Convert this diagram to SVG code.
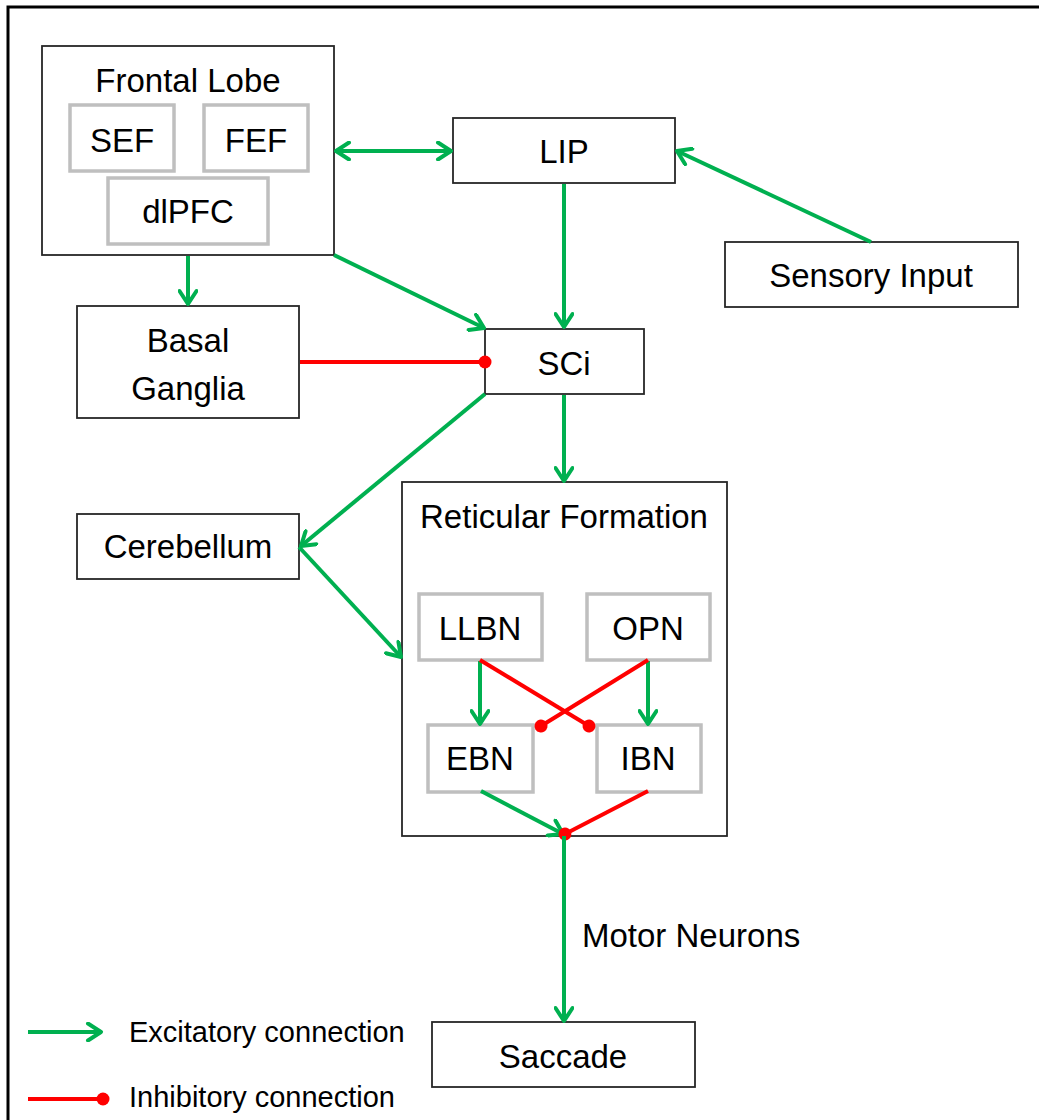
<svg xmlns="http://www.w3.org/2000/svg" width="1039" height="1120" viewBox="0 0 1039 1120">
<style>
.box{fill:#fff;stroke:#262626;stroke-width:1.8}
.sub{fill:#fff;stroke:#bfbfbf;stroke-width:3.5}
text{font-family:"Liberation Sans",Arial,sans-serif;font-size:33px;fill:#000;text-anchor:middle}
.leg{font-size:29px;text-anchor:start}
.ex{stroke:#00b050;stroke-width:4;fill:none;marker-end:url(#arr)}
.in{stroke:#ff0000;stroke-width:4;fill:none;marker-end:url(#dot)}
</style>
<defs>
<marker id="arr" markerUnits="userSpaceOnUse" viewBox="0 0 20 20" markerWidth="20" markerHeight="20" refX="17" refY="10" orient="auto-start-reverse">
<path d="M4,1.5 L17,10 L4,18.5" fill="none" stroke="#00b050" stroke-width="4" stroke-linecap="round" stroke-linejoin="round"/>
</marker>
<marker id="dot" markerUnits="userSpaceOnUse" viewBox="0 0 16 16" markerWidth="16" markerHeight="16" refX="8" refY="8" orient="auto">
<circle cx="8" cy="8" r="6.5" fill="#ff0000"/>
</marker>
</defs>
<rect width="1039" height="1120" fill="#fff"/>
<path d="M8,1120 V7 H1039" fill="none" stroke="#000" stroke-width="3"/>

<g id="frontal-lobe">
<rect class="box" x="42" y="46" width="292" height="209"/>
<text x="188" y="92">Frontal Lobe</text>
</g>
<g id="sef"><rect class="sub" x="70" y="105" width="104" height="66"/><text x="122" y="152">SEF</text></g>
<g id="fef"><rect class="sub" x="204" y="105" width="104" height="66"/><text x="256" y="152">FEF</text></g>
<g id="dlpfc"><rect class="sub" x="108" y="178" width="160" height="66"/><text x="188" y="223">dlPFC</text></g>
<g id="lip"><rect class="box" x="453" y="118" width="222" height="65"/><text x="564" y="163">LIP</text></g>
<g id="sensory-input"><rect class="box" x="725" y="242" width="293" height="65"/><text x="871" y="287">Sensory Input</text></g>
<g id="basal-ganglia"><rect class="box" x="77" y="306" width="222" height="112"/><text x="188" y="352">Basal</text><text x="188" y="400">Ganglia</text></g>
<g id="sci"><rect class="box" x="485" y="329" width="159" height="65"/><text x="564" y="375">SCi</text></g>
<g id="cerebellum"><rect class="box" x="77" y="514" width="222" height="65"/><text x="188" y="558">Cerebellum</text></g>
<g id="reticular-formation"><rect class="box" x="402" y="482" width="325" height="354"/><text x="564" y="528">Reticular Formation</text></g>
<g id="llbn"><rect class="sub" x="419" y="594" width="123" height="66"/><text x="480" y="640">LLBN</text></g>
<g id="opn"><rect class="sub" x="587" y="594" width="123" height="66"/><text x="648" y="640">OPN</text></g>
<g id="ebn"><rect class="sub" x="428" y="725" width="105" height="67"/><text x="480" y="770">EBN</text></g>
<g id="ibn"><rect class="sub" x="597" y="725" width="104" height="67"/><text x="648" y="770">IBN</text></g>
<g id="saccade"><rect class="box" x="432" y="1022" width="263" height="65"/><text x="563" y="1068">Saccade</text></g>

<g id="connectors">
<line class="ex" x1="336" y1="151" x2="451" y2="151" marker-start="url(#arr)"/>
<line class="ex" x1="871" y1="242" x2="677" y2="151"/>
<line class="ex" x1="564" y1="184" x2="564" y2="327"/>
<line class="ex" x1="188" y1="256" x2="188" y2="304"/>
<line class="ex" x1="334" y1="255" x2="484" y2="328"/>
<line class="in" x1="300" y1="362" x2="485" y2="362"/>
<line class="ex" x1="485" y1="394" x2="301" y2="546"/>
<line class="ex" x1="299" y1="547" x2="401" y2="657"/>
<line class="ex" x1="564" y1="395" x2="564" y2="481"/>
<line class="ex" x1="480" y1="661" x2="480" y2="724"/>
<line class="ex" x1="648" y1="661" x2="648" y2="724"/>
<line class="in" x1="480" y1="660" x2="589" y2="726"/>
<line class="in" x1="648" y1="660" x2="541" y2="726"/>
<line class="ex" x1="481" y1="791" x2="563" y2="834"/>
<line class="in" x1="648" y1="791" x2="565" y2="834"/>
<line class="ex" x1="564" y1="836" x2="564" y2="1021"/>
<text x="582" y="947" style="text-anchor:start">Motor Neurons</text>
</g>

<g id="legend">
<line class="ex" x1="28" y1="1032" x2="101" y2="1032"/>
<text class="leg" x="129" y="1042">Excitatory connection</text>
<line class="in" x1="28" y1="1099" x2="103" y2="1099"/>
<text class="leg" x="129" y="1107">Inhibitory connection</text>
</g>
</svg>
